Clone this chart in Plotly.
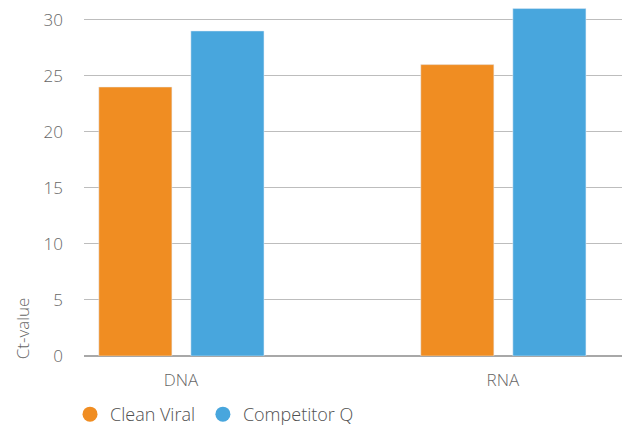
import plotly.graph_objects as go

categories = ["DNA", "RNA"]
clean_viral = [24, 26]
competitor_q = [29, 31]
series_names = ["Clean Viral", "Competitor Q"]
colors = ["#F08D22", "#48A6DD"]
y_ticks = [0, 5, 10, 15, 20, 25, 30]

FONT = dict(family="Open Sans", size=17, color="#666666", weight=300)
LEG_FONT = dict(family="Open Sans", size=18, color="#505050", weight=300)

fig = go.Figure()
offsets = [-0.255, 0.031]
legends = ["legend", "legend2"]
for name, vals, col, off, lg in zip(series_names, [clean_viral, competitor_q], colors, offsets, legends):
    fig.add_trace(go.Bar(x=categories, y=vals, name=name, marker_color=col,
                         width=0.227, offset=off, showlegend=False))
    fig.add_trace(go.Scatter(x=[None], y=[None], mode="markers", name=name,
                             marker=dict(color=col, size=15, symbol="circle"),
                             showlegend=True, legend=lg))

leg_common = dict(orientation="h", xanchor="left", y=-0.168, yanchor="middle",
                  font=LEG_FONT, itemsizing="trace", bgcolor="rgba(0,0,0,0)")

fig.update_layout(
    width=629, height=425,
    margin=dict(l=84, r=7, t=8, b=68.5, autoexpand=False),
    plot_bgcolor="white", paper_bgcolor="white",
    font=FONT,
    barmode="overlay",
    showlegend=True,
    legend=dict(x=-0.026, **leg_common),
    legend2=dict(x=0.221, **leg_common),
    xaxis=dict(type="category", range=[-0.301, 1.370], showgrid=False,
               showline=False, zeroline=False, ticks="", ticklabelstandoff=12,
               tickfont=FONT),
    yaxis=dict(range=[0, 31.05], tickvals=y_ticks, showgrid=True, gridcolor="#BDBDBD",
               gridwidth=1, zeroline=True, zerolinecolor="#A8A8A8", zerolinewidth=1.5,
               showline=False, ticks="", ticklabelstandoff=20,
               tickfont=FONT),
    annotations=[dict(text="Ct-value", xref="paper", yref="paper", x=-0.115, y=0.08,
                      xanchor="center", yanchor="middle", textangle=-90, showarrow=False,
                      font=FONT)],
)

fig.write_html("out.html")
